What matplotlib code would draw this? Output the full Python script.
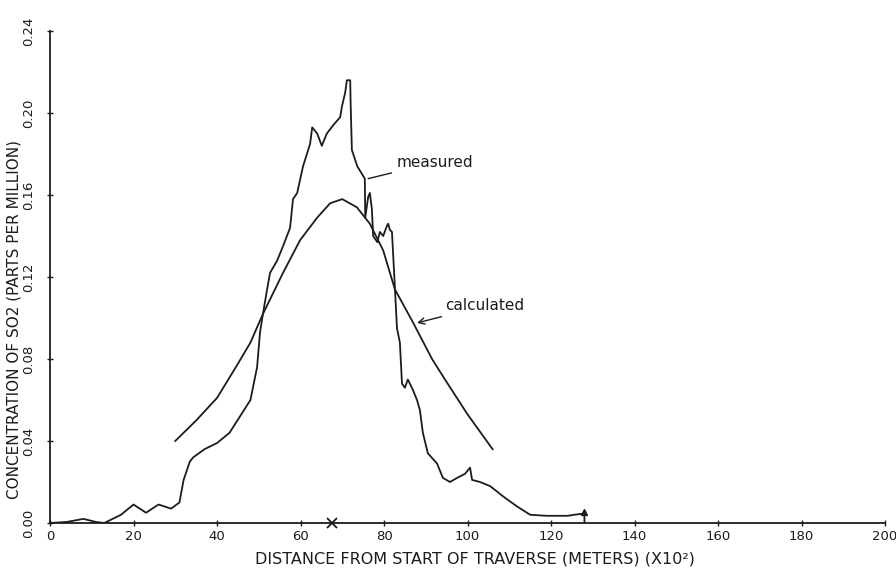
import matplotlib.pyplot as plt

# measured SO2 trace
measured_x = [0, 4, 8, 11, 13, 17, 20, 23, 26, 29, 31, 32, 33.5, 34.3, 37,
              40, 43, 45.5, 48, 49.6, 50.3, 51, 52, 52.7, 54.4, 55.8, 57.5,
              58.2, 59.2, 60.6, 62.3, 62.8, 64, 65.1, 66.3, 67.8, 69.5, 69.9,
              70.7, 71.1, 71.9, 72.0, 72.3, 73.6, 74.8, 75.4, 75.5, 76.2,
              76.6, 77.1, 77.4, 78.4, 79.0, 79.8, 80.7, 81.0, 81.4, 81.9,
              82.6, 83.1, 83.8, 84.3, 85.0, 85.7, 86.9, 87.9, 88.6, 89.3,
              90.5, 92.7, 94.1, 95.8, 97.5, 99.4, 100.6, 101.1, 103, 105.4,
              108.5, 111.9, 115, 119, 124, 125.5, 127.5, 128, 128]
measured_y = [0.0, 0.0005, 0.002, 0.0005, 0.0, 0.004, 0.009, 0.005, 0.009,
              0.007, 0.010, 0.021, 0.030, 0.032, 0.036, 0.039, 0.044, 0.052,
              0.060, 0.076, 0.093, 0.102, 0.114, 0.122, 0.128, 0.135, 0.144,
              0.158, 0.161, 0.174, 0.185, 0.193, 0.190, 0.184, 0.190, 0.194,
              0.198, 0.203, 0.210, 0.216, 0.216, 0.205, 0.182, 0.174, 0.170,
              0.168, 0.149, 0.159, 0.161, 0.153, 0.140, 0.137, 0.142, 0.140,
              0.145, 0.146, 0.143, 0.142, 0.115, 0.095, 0.088, 0.068, 0.066,
              0.070, 0.065, 0.060, 0.055, 0.044, 0.034, 0.029, 0.022, 0.020,
              0.022, 0.024, 0.027, 0.021, 0.020, 0.018, 0.013, 0.008, 0.004,
              0.0035, 0.0035, 0.004, 0.0045, 0.0045, 0.0]

# calculated curve
calculated_x = [30, 35, 40, 44.8, 48, 51, 55.8, 59.9, 64, 67.1, 70, 73.5,
                76.6, 79.8, 82.6, 86.9, 91.5, 94.6, 100, 106]
calculated_y = [0.040, 0.050, 0.061, 0.077, 0.088, 0.102, 0.122, 0.138,
                0.149, 0.156, 0.158, 0.154, 0.146, 0.133, 0.114, 0.098,
                0.080, 0.070, 0.053, 0.036]

x_ticks = [0, 20, 40, 60, 80, 100, 120, 140, 160, 180, 200]
y_ticks = [0.00, 0.04, 0.08, 0.12, 0.16, 0.20, 0.24]
y_tick_labels = ["0.00", "0.04", "0.08", "0.12", "0.16", "0.20", "0.24"]

INK = "#1c1c1c"


def main():
    fig = plt.figure(figsize=(8.96, 5.70), dpi=100)
    ax = fig.add_axes([0.0558, 0.0825, 0.932, 0.863])

    ax.plot(measured_x, measured_y, color=INK, lw=1.3)
    ax.plot(calculated_x, calculated_y, color=INK, lw=1.3)

    # small markers drawn on the trace / axis
    ax.plot([128], [0.0055], marker="^", ms=4, color=INK, clip_on=False)
    ax.plot([67.5], [0.0], marker="x", ms=7, mew=1.3, color=INK, clip_on=False)

    ax.annotate("measured", xy=(76.2, 0.168), xytext=(83.1, 0.176),
                fontsize=11, color=INK, va="center",
                arrowprops=dict(arrowstyle="-", color=INK, lw=1.0,
                                shrinkA=2, shrinkB=0))
    ax.annotate("calculated", xy=(87.9, 0.0976), xytext=(94.6, 0.106),
                fontsize=11, color=INK, va="center",
                arrowprops=dict(arrowstyle="->", color=INK, lw=1.0,
                                shrinkA=2, shrinkB=0))

    ax.set_xlim(0, 200)
    ax.set_ylim(0, 0.24)
    ax.spines["top"].set_visible(False)
    ax.spines["right"].set_visible(False)
    for s in ("left", "bottom"):
        ax.spines[s].set_color(INK)
        ax.spines[s].set_linewidth(1.3)

    ax.set_xticks(x_ticks)
    ax.set_yticks(y_ticks)
    ax.set_yticklabels(y_tick_labels, rotation=90, va="center")
    ax.tick_params(axis="both", direction="inout", length=4, width=1.0,
                   colors=INK, labelsize=9.5)
    ax.tick_params(axis="y", pad=9)
    ax.tick_params(axis="x", pad=3)

    ax.set_xlabel("DISTANCE FROM START OF TRAVERSE (METERS) (X10²)",
                  fontsize=11.5, color=INK)
    ax.xaxis.set_label_coords(0.509, -0.058)
    ax.set_ylabel("CONCENTRATION OF SO2 (PARTS PER MILLION)",
                  fontsize=11, color=INK)
    ax.yaxis.set_label_coords(-0.034, 0.413)

    return fig, ax


if __name__ == "__main__":
    fig, _ = main()
    fig.savefig("out.png", dpi=100)
